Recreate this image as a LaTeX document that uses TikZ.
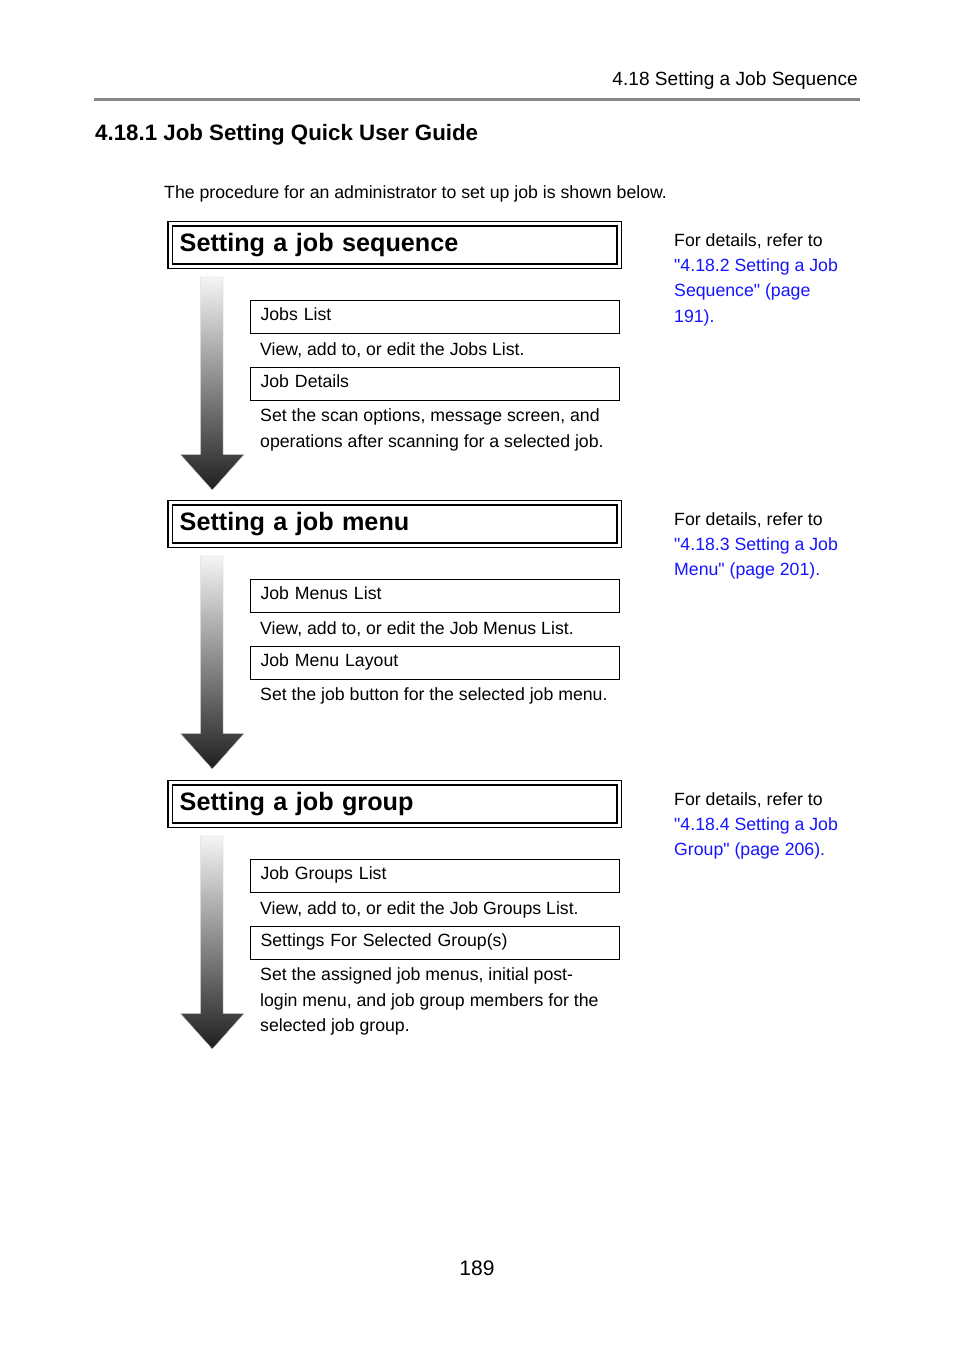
\documentclass[tikz,border=0pt]{standalone}
\usepackage{fontspec}
\setmainfont{Liberation Sans}
\definecolor{linkblue}{RGB}{20,20,255}
\definecolor{rulegray}{RGB}{135,135,135}
\tikzset{
  body/.style={anchor=west,inner sep=0pt,font=\fontsize{17.7pt}{25pt}\selectfont,text height=12.7pt,text depth=0pt},
  link/.style={body,text=linkblue},
  headbox/.style={draw,line width=1.4pt,double,double distance=3pt,anchor=north west,
    minimum width=449pt,minimum height=42.5pt,inner xsep=9.5pt,inner ysep=0pt,
    text width=430pt,align=left,font=\bfseries\fontsize{25.2pt}{30pt}\selectfont,
    text height=18pt,text depth=5.5pt},
  stepbox/.style={draw,line width=1.1pt,anchor=north west,minimum width=369pt,minimum height=33pt,
    inner xsep=10pt,inner ysep=0pt,text width=349pt,align=left,
    font=\fontsize{17.7pt}{25pt}\selectfont,text height=12.7pt,text depth=4.5pt},
  flowarrow/.style={top color=black!4,middle color=black!48,bottom color=black!88,draw=black!22,line width=0.4pt},
}
\begin{document}
\begin{tikzpicture}[x=1pt,y=-1pt]
\useasboundingbox (0,0) rectangle (954,1350);
% page header
\node[body,anchor=east,font=\fontsize{19.1pt}{23pt}\selectfont,text height=13.7pt] (hdr) at (858,78.5) {4.18 Setting a Job Sequence};
\coordinate (ruleL) at (94,99.5);
\coordinate (ruleR) at (860,99.5);
\draw[rulegray,line width=2.2pt] (ruleL) -- (ruleR);
\node[body,font=\bfseries\fontsize{22.3pt}{27pt}\selectfont,text height=16pt] (sect) at (95,132.5) {4.18.1 Job Setting Quick User Guide};
\node[body] (intro) at (164,192.5) {The procedure for an administrator to set up job is shown below.};

% ---------- section 1 ----------
\node[headbox] (t1) at (169.5,223) {Setting a job sequence};
\path[flowarrow] (200.5,277) -- (223,277) -- (223,454.5) -- (244,454.5) -- (212.3,490) -- (180.5,454.5) -- (200.5,454.5) -- cycle;
\node[stepbox] (b1a) at (250,299.5) {Jobs List};
\node[body] (d1a) at (260,349) {View, add to, or edit the Jobs List.};
\node[stepbox] (b1b) at (250,366.5) {Job Details};
\node[body] (d1b1) at (260,415.5) {Set the scan options, message screen, and};
\node[body] (d1b2) at (260,440.8) {operations after scanning for a selected job.};
\node[body] (r1a) at (674,240) {For details, refer to};
\node[link] (r1b) at (674,265.3) {\textquotedbl 4.18.2 Setting a Job};
\node[link] (r1c) at (674,290.6) {Sequence\textquotedbl{} (page};
\node[link] (r1d) at (674,315.9) {191).};

% ---------- section 2 ----------
\node[headbox] (t2) at (169.5,502) {Setting a job menu};
\path[flowarrow] (200.5,556) -- (223,556) -- (223,733.5) -- (244,733.5) -- (212.3,769) -- (180.5,733.5) -- (200.5,733.5) -- cycle;
\node[stepbox] (b2a) at (250,578.5) {Job Menus List};
\node[body] (d2a) at (260,628) {View, add to, or edit the Job Menus List.};
\node[stepbox] (b2b) at (250,645.5) {Job Menu Layout};
\node[body] (d2b1) at (260,694.5) {Set the job button for the selected job menu.};
\node[body] (r2a) at (674,519) {For details, refer to};
\node[link] (r2b) at (674,544.3) {\textquotedbl 4.18.3 Setting a Job};
\node[link] (r2c) at (674,569.6) {Menu\textquotedbl{} (page 201).};

% ---------- section 3 ----------
\node[headbox] (t3) at (169.5,782) {Setting a job group};
\path[flowarrow] (200.5,836) -- (223,836) -- (223,1013.5) -- (244,1013.5) -- (212.3,1049) -- (180.5,1013.5) -- (200.5,1013.5) -- cycle;
\node[stepbox] (b3a) at (250,858.5) {Job Groups List};
\node[body] (d3a) at (260,908) {View, add to, or edit the Job Groups List.};
\node[stepbox] (b3b) at (250,925.5) {Settings For Selected Group(s)};
\node[body] (d3b1) at (260,974.5) {Set the assigned job menus, initial post-};
\node[body] (d3b2) at (260,999.8) {login menu, and job group members for the};
\node[body] (d3b3) at (260,1025.1) {selected job group.};
\node[body] (r3a) at (674,799) {For details, refer to};
\node[link] (r3b) at (674,824.3) {\textquotedbl 4.18.4 Setting a Job};
\node[link] (r3c) at (674,849.6) {Group\textquotedbl{} (page 206).};

% page number
\node[body,anchor=center,font=\fontsize{21pt}{25pt}\selectfont,text height=15pt] (pg) at (477,1268) {189};
\end{tikzpicture}
\end{document}
